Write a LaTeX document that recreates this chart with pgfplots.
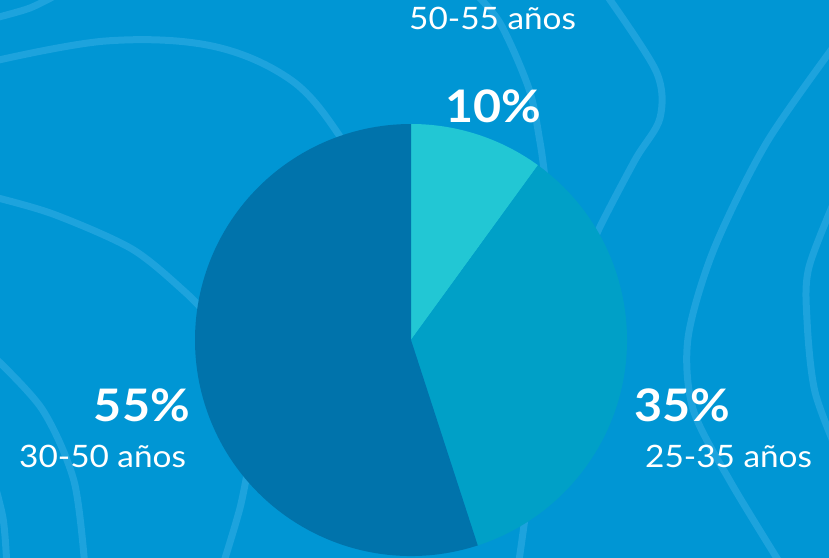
\documentclass[border=0pt]{standalone}
\usepackage{pgfplots}
\usepackage{pgfplotstable}
\pgfplotsset{compat=1.18}
\usepackage{fontspec}
\setmainfont{Lato}[FakeStretch=1.08]
\definecolor{bg}{HTML}{0096D4}
\definecolor{deco}{HTML}{1DA3DD}
\definecolor{sA}{HTML}{22C7D4}
\definecolor{sB}{HTML}{00A0C7}
\definecolor{sC}{HTML}{0073AB}
\pgfplotstableread{
label value
50-55 10
25-35 35
30-50 55
}\piedata
\begin{document}%
\begin{tikzpicture}
\pgfplotstablegetelem{0}{value}\of\piedata \let\va\pgfplotsretval
\pgfplotstablegetelem{1}{value}\of\piedata \let\vb\pgfplotsretval
\pgfplotstablegetelem{2}{value}\of\piedata \let\vc\pgfplotsretval
\pgfmathsetmacro\aA{90}
\pgfmathsetmacro\aB{\aA-3.6*\va}
\pgfmathsetmacro\aC{\aB-3.6*\vb}
\pgfmathsetmacro\aD{\aC-3.6*\vc}
\begin{axis}[
  scale only axis, width=829bp, height=558bp,
  xmin=0, xmax=829, ymin=0, ymax=558,
  axis line style={draw=none}, xtick=\empty, ytick=\empty,
  axis background/.style={fill=bg},
]
% decorative contour lines (background texture)
\addplot[deco, line width=7bp, smooth, tension=0.6] coordinates {(-10,496) (106,517) (212,512) (291,478) (339,423) (360,378)};
\addplot[deco, line width=7bp, smooth] coordinates {(-5,540) (30,550) (60,565)};
\addplot[deco, line width=7bp, smooth] coordinates {(-10,362) (53,344) (132,309) (185,266) (210,240)};
\addplot[deco, line width=7bp, smooth] coordinates {(-10,205) (42,149) (74,77) (85,-10)};
\addplot[deco, line width=7bp, smooth] coordinates {(-10,90) (3,40) (7,-10)};
\addplot[deco, line width=7bp, smooth] coordinates {(603,568) (656,487) (660,440) (635,398) (598,327) (590,300)};
\addplot[deco, line width=7bp, smooth] coordinates {(470,570) (500,535) (529,469) (540,416) (545,380)};
\addplot[deco, line width=7bp, smooth] coordinates {(840,520) (767,416) (714,309) (688,220) (693,149) (730,77) (783,-10)};
\addplot[deco, line width=7bp, smooth] coordinates {(840,370) (809,291) (807,238) (815,166) (840,100)};
\addplot[deco, line width=7bp, smooth] coordinates {(222,-10) (240,50) (250,100)};
\addplot[deco, line width=7bp, smooth] coordinates {(518,-10) (525,40) (530,80)};
% pie
\fill[sA] (axis cs:411,218) -- ++(\aA:216bp) arc[start angle=\aA, end angle=\aB, radius=216bp] -- cycle;
\fill[sB] (axis cs:411,218) -- ++(\aB:216bp) arc[start angle=\aB, end angle=\aC, radius=216bp] -- cycle;
\fill[sC] (axis cs:411,218) -- ++(\aC:216bp) arc[start angle=\aC, end angle=\aD, radius=216bp] -- cycle;
% labels
\node[white, anchor=base west, inner sep=0pt, font=\fontsize{31}{31}\selectfont] at (axis cs:409,528) {50-55 años};
\node[white, anchor=base west, inner sep=0pt, font=\fontsize{45}{45}\selectfont\bfseries] at (axis cs:445,435) {\va\%};
\node[white, anchor=base east, inner sep=0pt, font=\fontsize{45}{45}\selectfont\bfseries] at (axis cs:190,136) {\vc\%};
\node[white, anchor=base west, inner sep=0pt, font=\fontsize{31}{31}\selectfont] at (axis cs:19,90) {30-50 años};
\node[white, anchor=base west, inner sep=0pt, font=\fontsize{45}{45}\selectfont\bfseries] at (axis cs:634,136) {\vb\%};
\node[white, anchor=base west, inner sep=0pt, font=\fontsize{31}{31}\selectfont] at (axis cs:645,90) {25-35 años};
\end{axis}
\end{tikzpicture}%
\end{document}
